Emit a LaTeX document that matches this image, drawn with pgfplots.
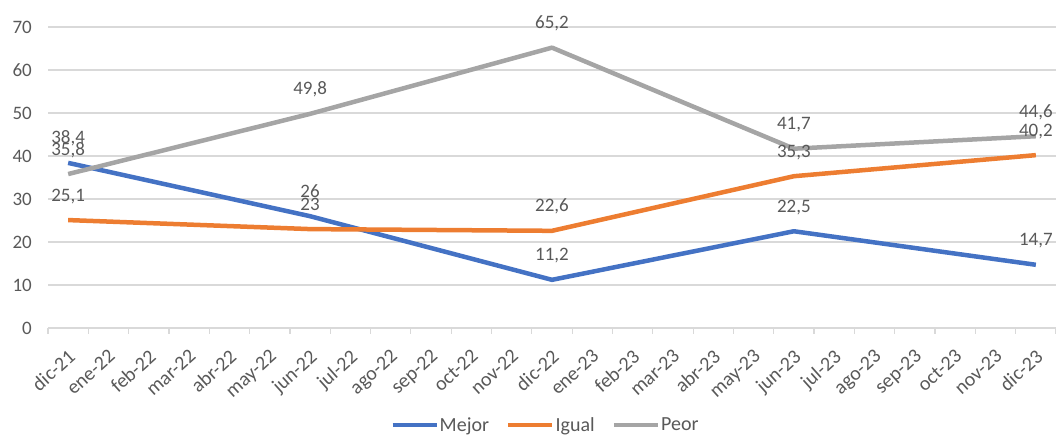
\documentclass[border=0pt]{standalone}
\usepackage{fontspec}
\setmainfont{Carlito}
\usepackage{pgfplots}
\pgfplotsset{compat=1.18}
\definecolor{cMejor}{HTML}{4472C4}
\definecolor{cIgual}{HTML}{ED7D31}
\definecolor{cPeor}{HTML}{A5A5A5}
\definecolor{ctext}{HTML}{595959}
\definecolor{cgrid}{HTML}{D9D9D9}
\newcommand{\chartfont}{\fontsize{19}{22}\selectfont}
\newcommand{\bigchartfont}{\fontsize{20}{23}\selectfont}
\begin{document}
\begin{tikzpicture}
\begin{axis}[
  at={(48pt,108pt)}, anchor=south west,
  width=1008pt, height=301pt, scale only axis,
  xmin=-0.5, xmax=24.5, ymin=0, ymax=70,
  clip=false,
  axis x line*=bottom, axis y line*=left,
  x axis line style={draw=cgrid, line width=1.2pt, -},
  y axis line style={draw=none},
  ytick={0,10,...,70},
  ymajorgrids=true,
  grid style={draw=cgrid, line width=1.2pt},
  ytick style={draw=none},
  xtick={0,...,24},
  xticklabels={dic-21,ene-22,feb-22,mar-22,abr-22,may-22,jun-22,jul-22,ago-22,sep-22,oct-22,nov-22,dic-22,ene-23,feb-23,mar-23,abr-23,may-23,jun-23,jul-23,ago-23,sep-23,oct-23,nov-23,dic-23},
  minor xtick={-0.5,0.5,...,24.5},
  major tick length=0pt, minor tick length=6pt, tick align=outside,
  xtick style={draw=cgrid, line width=1.2pt},
  every tick label/.append style={font=\chartfont, text=ctext},
  /pgf/number format/assume math mode=true,
  /pgf/number format/use comma,
  xticklabel style={font=\bigchartfont, inner sep=0pt, anchor=north east, xshift=-1pt, yshift=-20pt, rotate=42},
  yticklabel style={anchor=east, inner sep=0pt, xshift=-16pt},
  nodes near coords,
  every node near coord/.append style={font=\chartfont, text=ctext, anchor=base, inner sep=0pt, yshift=19pt},
  legend columns=3,
  legend style={draw=none, fill=none, font=\bigchartfont, text=ctext,
    at={(0.493,-0.322)}, anchor=center,
    /tikz/every even column/.append style={column sep=16pt},
    inner sep=0pt, nodes={inner sep=1pt}},
  legend image code/.code={\draw[#1, line width=4.5pt] (0pt,0pt) -- (44pt,0pt);},
]
\addplot[cMejor, line width=4.5pt, line join=round] coordinates {(0,38.4) (6,26) (12,11.2) (18,22.5) (24,14.7)};
\addlegendentry{Mejor}
\addplot[cIgual, line width=4.5pt, line join=round] coordinates {(0,25.1) (6,23) (12,22.6) (18,35.3) (24,40.2)};
\addlegendentry{Igual}
\addplot[cPeor, line width=4.5pt, line join=round] coordinates {(0,35.8) (6,49.8) (12,65.2) (18,41.7) (24,44.6)};
\addlegendentry{Peor}
\end{axis}
\pgfresetboundingbox
\path[use as bounding box] (0,0) rectangle (1056pt,436pt);
\end{tikzpicture}
\end{document}
